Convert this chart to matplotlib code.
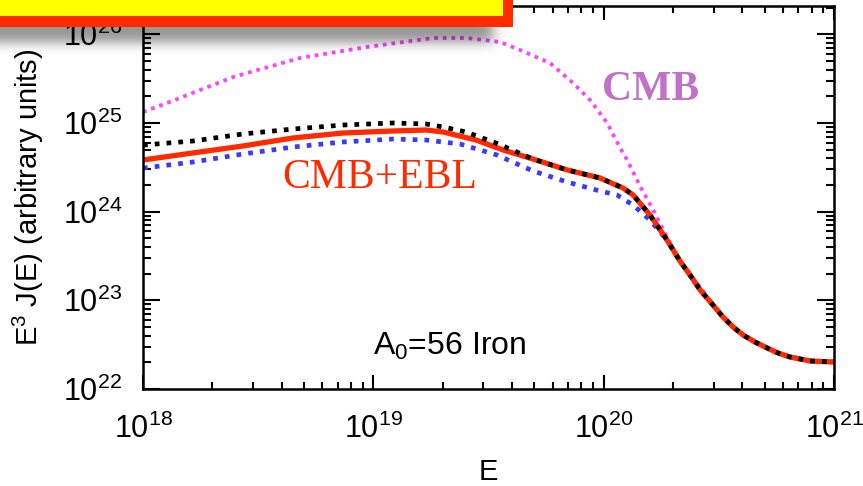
import numpy as np
import matplotlib
matplotlib.use("Agg")
import matplotlib.pyplot as plt
from matplotlib.patches import Rectangle
from matplotlib.ticker import LogLocator, NullFormatter

plt.rcParams['font.family'] = ['Liberation Sans', 'DejaVu Sans']
plt.rcParams['mathtext.fontset'] = 'custom'
plt.rcParams['mathtext.rm'] = 'Liberation Sans'
plt.rcParams['mathtext.it'] = 'Liberation Sans:italic'

# valores (log10 E, log10 E^3 J)
cola_e = [20.275, 20.332, 20.375, 20.419, 20.471, 20.518, 20.562, 20.605,
          20.657, 20.710, 20.757, 20.809, 20.896, 21.000]
cola_j = [23.680, 23.440, 23.285, 23.116, 22.958, 22.812, 22.699, 22.609,
          22.530, 22.462, 22.406, 22.361, 22.316, 22.304]

cmb_e = [18.000, 18.104, 18.391, 18.682, 18.973, 19.259, 19.407, 19.550,
         19.637, 19.767, 19.867, 19.941, 20.015, 20.071, 20.102, 20.160,
         20.222, 20.253, 20.325, 20.360, 20.425]
cmb_j = [25.123, 25.224, 25.517, 25.732, 25.856, 25.957, 25.957, 25.912,
         25.822, 25.675, 25.450, 25.258, 25.000, 24.720, 24.582, 24.277,
         23.984, 23.826, 23.454, 23.340, 23.130]

rojo_e = [18.000, 18.217, 18.434, 18.651, 18.868, 19.086, 19.229, 19.303,
          19.446, 19.563, 19.693, 19.841, 19.984, 20.084, 20.128, 20.201]
rojo_j = [24.582, 24.661, 24.740, 24.830, 24.886, 24.909, 24.920, 24.897,
          24.807, 24.695, 24.593, 24.470, 24.379, 24.266, 24.187, 23.962]

negro_e = [18.000, 18.217, 18.434, 18.651, 18.868, 19.086, 19.229, 19.303,
           19.403, 19.533, 19.693, 19.841, 19.984, 20.084, 20.128, 20.201]
negro_j = [24.750, 24.796, 24.875, 24.931, 24.976, 24.999, 24.988, 24.954,
           24.897, 24.773, 24.593, 24.470, 24.379, 24.266, 24.187, 23.962]

azul_e = [18.000, 18.217, 18.434, 18.651, 18.868, 19.086, 19.229, 19.376,
          19.535, 19.693, 19.841, 19.984, 20.058, 20.128, 20.201]
azul_j = [24.490, 24.559, 24.649, 24.728, 24.785, 24.818, 24.807, 24.762,
          24.640, 24.458, 24.334, 24.232, 24.187, 24.074, 23.905]


def curva(le, lj, desde=0):
    le = le + cola_e[desde:]
    lj = lj + cola_j[desde:]
    return 10 ** np.array(le), 10 ** np.array(lj)


fig = plt.figure(figsize=(8.63, 4.86), dpi=100)
ax = fig.add_axes([143 / 863, 1 - 389 / 486, (834 - 143) / 863, (389 - 6) / 486])

x, y = curva(cmb_e, cmb_j, desde=4)
ax.plot(x, y, color='#ff44ff', lw=2.7, linestyle=(0, (1, 1.3)))
x, y = curva(azul_e, azul_j)
ax.plot(x, y, color='#3a3aff', lw=3.4, linestyle=(0, (1, 1.5)))
x, y = curva(rojo_e, rojo_j)
ax.plot(x, y, color='#ff2a00', lw=3.8)
x, y = curva(negro_e, negro_j)
ax.plot(x, y, color='black', lw=3.4, linestyle=(0, (1, 1.5)))

ax.set_xscale('log')
ax.set_yscale('log')
ax.set_xlim(1e18, 1e21)
ax.set_ylim(1e22, 10 ** 26.318)

for eje in (ax.xaxis, ax.yaxis):
    eje.set_major_locator(LogLocator(base=10, numticks=10))
    eje.set_minor_locator(LogLocator(base=10, subs=np.arange(2, 10), numticks=20))
    eje.set_minor_formatter(NullFormatter())

ax.tick_params(which='both', direction='in', top=True, right=True,
               width=1.5, labelsize=22, colors='black')
ax.tick_params(axis='x', which='major', length=10, pad=18)
ax.tick_params(axis='x', which='minor', length=5)
ax.tick_params(axis='y', which='major', length=12, pad=15)
ax.tick_params(axis='y', which='minor', length=6)
for s in ax.spines.values():
    s.set_linewidth(1.8)

ax.set_xlabel('E', fontsize=21, labelpad=9)
ax.set_ylabel('E$^3$ J(E) (arbitrary units)', fontsize=21, labelpad=12)

ax.text(10 ** 18.604, 10 ** 24.266, 'CMB+EBL', color='#ff2a00', fontsize=30,
        family='Liberation Serif', ha='left', va='baseline')
ax.text(10 ** 19.993, 10 ** 25.258, 'CMB', color='#bf72c6', fontsize=30,
        family='Liberation Serif', fontweight='bold', ha='left', va='baseline')
ax.text(10 ** 18.999, 10 ** 22.383, 'A$_0$=56 Iron', color='black', fontsize=23,
        ha='left', va='baseline')

# caja amarilla con sombra encima de la grafica
ov = fig.add_axes([0, 0, 1, 1], zorder=10)
ov.axis('off')
ov.patch.set_alpha(0)

xs = np.arange(0, 600)
ys = np.arange(0, 90)
fx = 0.5 * (1 - np.tanh((xs - 492) / 8.0))
fy = 0.5 * (1 - np.tanh((ys - 42) / 7.0))
alfa = 0.42 * np.outer(fy, fx)
sombra = np.zeros((len(ys), len(xs), 4))
sombra[..., 3] = alfa
ov.imshow(sombra, extent=(0, 600, 90, 0), interpolation='bilinear', aspect='auto')

ov.add_patch(Rectangle((-20, -20), 533, 47, facecolor='#ff2a00', edgecolor='none'))
ov.add_patch(Rectangle((-20, -20), 523, 36, facecolor='#ffff00', edgecolor='none'))
ov.set_xlim(0, 863)
ov.set_ylim(486, 0)

fig.savefig('out.png', dpi=100)
